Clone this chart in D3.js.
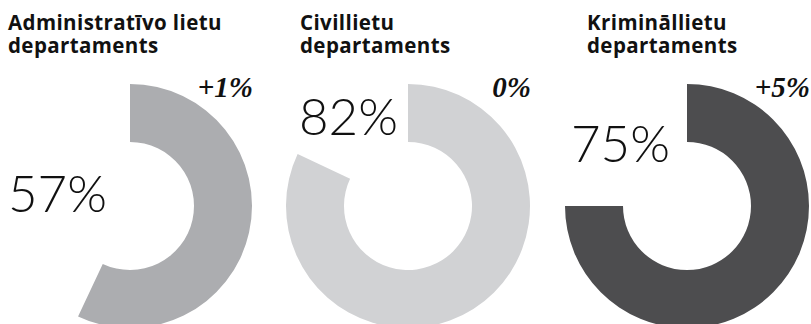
<!DOCTYPE html>
<html>
<head>
<meta charset="utf-8">
<script src="https://cdn.jsdelivr.net/npm/d3@7"></script>
<style>
  html, body { margin: 0; padding: 0; background: #fff; }
  svg { display: block; }
</style>
</head>
<body>
<svg id="chart" width="811" height="324"></svg>
<script>
// ---- data ----
const titlesLine1 = ["Administratīvo lietu", "Civillietu", "Krimināllietu"];
const titlesLine2 = ["departaments", "departaments", "departaments"];
const shares = [57, 82, 75];
const changes = ["+1%", "0%", "+5%"];
const colors = ["#acadb0", "#d1d2d4", "#4d4d4f"];

// ---- layout ----
const svg = d3.select("#chart");
const centersX = [130, 408, 687];
const cy = 206;
const outerR = 122, innerR = 64;
const titleX = [8, 300, 587];
const pctPos = [[8, 212], [299, 135], [571, 162]];

const angle = d3.scaleLinear().domain([0, 100]).range([0, 2 * Math.PI]);
const arc = d3.arc().innerRadius(innerR).outerRadius(outerR).startAngle(0);

shares.forEach((v, i) => {
  svg.append("path")
    .attr("transform", `translate(${centersX[i]},${cy})`)
    .attr("d", arc({ endAngle: angle(v) }))
    .attr("fill", colors[i]);
});

// titles
const titleFont = "'Open Sans', 'Noto Sans', sans-serif";
shares.forEach((v, i) => {
  const t = svg.append("text")
    .attr("x", titleX[i])
    .attr("font-family", titleFont)
    .attr("font-weight", 700)
    .attr("font-size", 20.5)
    .attr("letter-spacing", 0.4)
    .attr("fill", "#111");
  t.append("tspan").attr("x", titleX[i]).attr("y", 30).text(titlesLine1[i]);
  t.append("tspan").attr("x", titleX[i]).attr("y", 53).text(titlesLine2[i]);
});

// big percentages
shares.forEach((v, i) => {
  svg.append("text")
    .attr("x", pctPos[i][0])
    .attr("y", pctPos[i][1])
    .attr("font-family", "Lato, 'Open Sans', sans-serif")
    .attr("font-weight", 300)
    .attr("font-size", 51)
    .attr("fill", "#111")
    .text(v + "%");
});

// change labels
changes.forEach((c, i) => {
  svg.append("text")
    .attr("x", centersX[i] + outerR + 1)
    .attr("y", 97)
    .attr("text-anchor", "end")
    .attr("font-family", "'Liberation Serif', 'DejaVu Serif', serif")
    .attr("font-weight", 700)
    .attr("font-style", "italic")
    .attr("font-size", 29)
    .attr("fill", "#111")
    .text(c);
});
</script>
</body>
</html>
